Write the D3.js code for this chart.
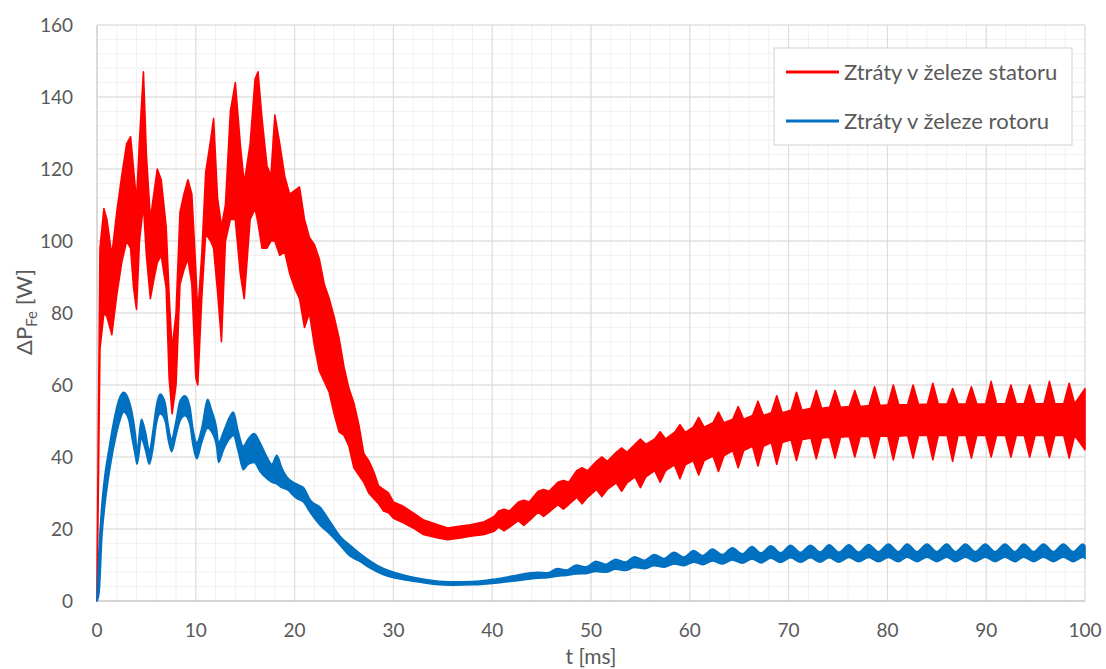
<!DOCTYPE html>
<html>
<head>
<meta charset="utf-8">
<script src="https://cdn.jsdelivr.net/npm/d3@7/dist/d3.min.js"></script>
<style>
  body { margin: 0; background: #fff; }
  #chart text { font-family: Lato, 'Open Sans', sans-serif; fill: #595959; }
</style>
</head>
<body>
<div id="chart"></div>
<script>
// envelope of the dense traces (upper / lower edge of each band)
const tRed = [0, 0.3, 0.7, 1, 1.5, 2, 2.5, 3, 3.4, 3.7, 4, 4.3, 4.7, 5, 5.4, 5.8, 6.1, 6.5, 7, 7.3,
  7.6, 8, 8.4, 8.8, 9.2, 9.6, 10, 10.2, 10.6, 11, 11.5, 11.8, 12.2, 12.6, 13, 13.5, 14, 14.5, 14.9, 15.5,
  16, 16.3, 16.7, 17.2, 17.6, 18, 18.5, 19, 19.5, 20, 20.5, 21, 21.5, 22, 22.5, 23, 23.5, 24, 24.5, 25,
  25.5, 26, 26.5, 27, 27.5, 28, 28.5, 29, 29.5, 30, 31, 32, 33, 34.5, 35.5, 36.8, 37.8, 39.2, 40.2,
  // ripple: shoulder, spike, shoulder
  40.65, 41.2, 41.75, 42.65, 43.2, 43.75, 44.65, 45.2, 45.75, 46.65, 47.2, 47.75,
  48.55, 49.1, 49.65, 50.55, 51.1, 51.65, 52.55, 53.1, 53.65, 54.45, 55, 55.55,
  56.45, 57, 57.55, 58.45, 59, 59.55, 60.35, 60.9, 61.45, 62.35, 62.9, 63.45,
  64.35, 64.9, 65.45, 66.35, 66.9, 67.45, 68.25, 68.8, 69.35, 70.25, 70.8, 71.35,
  72.25, 72.8, 73.35, 74.15, 74.7, 75.25, 76.15, 76.7, 77.25, 78.15, 78.7, 79.25,
  80.05, 80.6, 81.15, 82.05, 82.6, 83.15, 84.05, 84.6, 85.15, 86.05, 86.6, 87.15,
  87.95, 88.5, 89.05, 89.95, 90.5, 91.05, 91.95, 92.5, 93.05, 93.85, 94.4, 94.95,
  95.85, 96.4, 96.95, 97.85, 98.4, 98.95, 100]
const redHi = [5, 98, 109, 106, 96, 108, 118, 127, 129, 120, 111, 128, 147, 124, 106, 114, 120, 117, 104, 85,
  70, 80, 108, 113, 117, 113, 92, 80, 96, 119, 128, 134, 112, 104, 110, 136, 144, 127, 116, 127,
  145, 147, 134, 121, 118, 135, 127, 118, 113, 114, 115, 106, 101, 99, 95, 88, 84, 79, 73, 65,
  59, 55, 49, 41, 39, 36, 32, 31, 30, 27.5, 26.3, 24.5, 22.6, 21.2, 20.3, 20.8, 21.2, 22, 23.5,
  25, 25.5, 25, 27.5, 28, 27.5, 30.5, 31, 30.5, 33, 33.5, 33,
  36.2, 37, 36.2, 38.8, 40, 38.8, 41.3, 42.5, 41.3, 43.5, 45, 43.5,
  45, 47, 45, 46.8, 49, 46.8, 48.3, 51, 48.3, 49.5, 52.5, 49.5,
  50.5, 54, 50.5, 51.5, 55.5, 51.5, 52.3, 57, 52.3, 53, 58, 53,
  53.5, 58.5, 53.5, 53.8, 58.5, 53.8, 54, 58.5, 54, 54.3, 59.5, 54.3,
  54.5, 60, 54.5, 54.6, 60, 54.6, 54.7, 60.5, 54.7, 54.7, 59, 54.7,
  54.7, 59.5, 54.7, 54.8, 61, 54.8, 54.8, 60, 54.8, 54.8, 60, 54.8,
  54.8, 61, 54.8, 54.8, 60.5, 54.8, 59]
const redLo = [0, 70, 80, 79, 74, 85, 94, 100, 98, 87, 81, 100, 110, 96, 84, 90, 94, 96, 87, 62,
  52, 60, 88, 92, 95, 88, 62, 60, 84, 102, 100, 98, 86, 72, 100, 106, 106, 91, 84, 106,
  109, 105, 98, 98, 100, 100, 96, 97, 91, 87, 84, 76, 80, 71, 64, 61, 58, 52, 47, 46,
  43, 37, 35, 33, 30, 28.5, 27, 25, 24.5, 23, 21.7, 20.3, 18.5, 17.5, 17, 17.5, 18, 18.5, 19.4,
  20.5, 19.5, 20.5, 22.3, 21, 22.3, 24.7, 23.5, 24.7, 26.8, 25.5, 26.8,
  28.8, 27, 28.8, 31, 29, 31, 32.8, 30.5, 32.8, 34.5, 31.5, 34.5,
  36.2, 33, 36.2, 37.8, 34, 37.8, 39, 35, 39, 40.3, 36, 40.3,
  41.8, 37, 41.8, 43, 37.5, 43, 44, 38, 44, 44.8, 39, 44.8,
  45.3, 39.5, 45.3, 45.5, 39.7, 45.5, 45.7, 40, 45.7, 45.8, 39.7, 45.8,
  45.8, 39.2, 45.8, 46, 39.7, 46, 46, 39.2, 46, 46, 38.8, 46,
  46, 39.7, 46, 46, 40, 46, 46, 40, 46, 46, 40, 46,
  46, 40, 46, 46, 39.7, 46, 42]

const tBlue = [0, 0.2, 0.5, 0.85, 1.2, 1.5, 1.85, 2.3, 2.7, 3.2, 3.5, 3.9, 4.05, 4.5, 4.9, 5.3, 5.7, 6, 6.4, 6.9,
  7.2, 7.55, 8, 8.4, 8.9, 9.4, 9.7, 10.1, 10.6, 11.2, 11.6, 12.1, 12.3, 12.8, 13.4, 13.8, 14.3, 14.8, 15.3, 15.9,
  16.5, 17.2, 17.7, 18.2, 18.7, 19.2, 20.2, 20.9, 21.6, 22.6, 23.6, 24.6, 25.6, 26.6, 27.6, 29, 30.3, 32, 34, 36,
  38, 40, 42, 44.6, 45.6, 46.6, 47.5, 48.5, 49.5, 50.5, 51.5, 52.5, 53.5, 54.4, 55.4, 56.4, 57.4, 58.4, 59.4, 60.4,
  61.3, 62.3, 63.3, 64.3, 65.3, 66.3, 67.2, 68.2, 69.2, 70.2, 71.2, 72.2, 73.2, 74.1, 75.1, 76.1, 77.1, 78.1, 79.1, 80.1,
  81.1, 82, 83, 84, 85, 86, 86.9, 87.9, 88.9, 89.9, 90.9, 91.9, 92.9, 93.8, 94.8, 95.8, 96.8, 97.8, 98.8, 99.8, 100]
const blueHi = [1, 14, 27, 36, 42, 47, 52, 56.5, 58, 56, 53, 46, 42, 50.5, 47, 42, 48, 54, 57.5, 55,
  49, 45, 50, 55.5, 57, 54, 48, 44, 48, 56, 53, 48, 44, 47, 51, 52.5, 47, 43, 45, 46.5,
  44, 40, 38, 40.5, 37, 34.5, 32.5, 31.5, 28, 26, 22, 18, 15.5, 13.2, 11.2, 9, 7.8, 6.6, 5.7, 5.3,
  5.4, 6, 6.9, 8, 7.8, 9, 8.6, 10, 9.5, 11, 10.2, 11.6, 10.8, 12.3, 11.3, 12.9, 11.8, 13.5, 12.2, 14,
  12.6, 14.4, 12.9, 14.8, 13.1, 15.1, 13.3, 15.3, 13.4, 15.5, 13.5, 15.5, 13.6, 15.6, 13.6, 15.6, 13.6, 15.7, 13.7, 15.8,
  13.7, 15.8, 13.7, 15.8, 13.7, 15.8, 13.7, 15.8, 13.7, 15.8, 13.7, 15.8, 13.7, 15.8, 13.7, 15.8, 13.7, 15.8, 13.7, 15.8, 15.2]
const blueLo = [0, 2, 18, 28, 35, 40, 45, 50, 52.5, 50.5, 46, 40, 38, 45, 42, 38, 43, 49, 52, 50,
  45, 41.5, 46, 50, 51.5, 49, 43.5, 39.5, 44, 48, 47, 43, 38.5, 42, 45, 46, 41.5, 36.5, 38, 38.5,
  36, 34, 33, 32.5, 31.5, 31, 28.5, 27.5, 24.5, 21, 18.5, 15.5, 12.5, 11, 9.2, 7.3, 6.3, 5.5, 4.7, 4.4,
  4.5, 4.9, 5.5, 6.3, 6.5, 6.9, 7.1, 7.5, 7.6, 8.2, 8, 8.8, 8.5, 9.3, 9, 9.8, 9.4, 10.3, 9.8, 10.8,
  10.1, 11.1, 10.3, 11.4, 10.5, 11.7, 10.6, 11.9, 10.7, 12, 10.8, 12, 10.8, 12, 10.8, 12.1, 10.9, 12.1, 10.9, 12.1,
  10.9, 12.2, 10.9, 12.2, 10.9, 12.2, 10.9, 12.2, 10.9, 12.2, 10.9, 12.2, 10.9, 12.2, 10.9, 12.2, 10.9, 12.2, 10.9, 12.2, 11.8]

const seriesNames = ['Ztráty v železe statoru', 'Ztráty v železe rotoru']
const seriesColors = ['#ff0000', '#0070c0']
const xTicks = [0, 10, 20, 30, 40, 50, 60, 70, 80, 90, 100]
const yTicks = [0, 20, 40, 60, 80, 100, 120, 140, 160]

const width = 1106
const height = 669
const margin = { left: 97, right: 21, top: 25, bottom: 68 }

const svg = d3.select('#chart').append('svg')
  .attr('width', width)
  .attr('height', height)

const x = d3.scaleLinear().domain([0, 100]).range([margin.left, width - margin.right])
const y = d3.scaleLinear().domain([0, 160]).range([height - margin.bottom, margin.top])

// grid: minor first, then major
const grid = svg.append('g')
grid.selectAll('.vminor')
  .data(d3.range(0, 101, 2))
  .enter().append('line')
  .attr('x1', d => x(d)).attr('x2', d => x(d))
  .attr('y1', y(0)).attr('y2', y(160))
  .attr('stroke', '#f0f0f0').attr('stroke-width', 1)
grid.selectAll('.hminor')
  .data(d3.range(0, 161, 4))
  .enter().append('line')
  .attr('y1', d => y(d)).attr('y2', d => y(d))
  .attr('x1', x(0)).attr('x2', x(100))
  .attr('stroke', '#f0f0f0').attr('stroke-width', 1)
grid.selectAll('.vmajor')
  .data(xTicks)
  .enter().append('line')
  .attr('x1', d => x(d)).attr('x2', d => x(d))
  .attr('y1', y(0)).attr('y2', y(160))
  .attr('stroke', '#d9d9d9').attr('stroke-width', 1)
grid.selectAll('.hmajor')
  .data(yTicks)
  .enter().append('line')
  .attr('y1', d => y(d)).attr('y2', d => y(d))
  .attr('x1', x(0)).attr('x2', x(100))
  .attr('stroke', '#d9d9d9').attr('stroke-width', 1)

// axis lines
svg.append('line')
  .attr('x1', x(0)).attr('x2', x(100)).attr('y1', y(0)).attr('y2', y(0))
  .attr('stroke', '#bfbfbf').attr('stroke-width', 1.2)
svg.append('line')
  .attr('x1', x(0)).attr('x2', x(0)).attr('y1', y(0)).attr('y2', y(160))
  .attr('stroke', '#d0d0d0').attr('stroke-width', 1.2)

// data bands (red keeps its spikes, blue is a smooth thick wave)
const curves = [d3.curveLinear, d3.curveMonotoneX]

const series = [
  tRed.map((t, i) => ({ t: t, hi: redHi[i], lo: redLo[i] })),
  tBlue.map((t, i) => ({ t: t, hi: blueHi[i], lo: blueLo[i] }))
]

svg.selectAll('.band')
  .data(series)
  .enter().append('path')
  .attr('class', 'band')
  .attr('d', (d, i) => d3.area()
    .curve(curves[i])
    .x(p => x(p.t))
    .y0(p => y(p.lo))
    .y1(p => y(p.hi))(d))
  .attr('fill', (d, i) => seriesColors[i])
  .attr('stroke', (d, i) => seriesColors[i])
  .attr('stroke-width', 1.6)
  .attr('stroke-linejoin', 'round')

// tick labels
svg.selectAll('.ylab')
  .data(yTicks)
  .enter().append('text')
  .attr('x', 73)
  .attr('y', d => y(d))
  .attr('dy', '0.35em')
  .attr('text-anchor', 'end')
  .style('font-size', '19px')
  .text(d => d)
svg.selectAll('.xlab')
  .data(xTicks)
  .enter().append('text')
  .attr('x', d => x(d))
  .attr('y', 637)
  .attr('text-anchor', 'middle')
  .style('font-size', '19px')
  .text(d => d)

// axis titles
svg.append('text')
  .attr('x', x(50))
  .attr('y', 664)
  .attr('text-anchor', 'middle')
  .style('font-size', '21px')
  .text('t [ms]')

const yTitle = svg.append('text')
  .attr('transform', 'translate(32,' + 312 + ') rotate(-90)')
  .attr('text-anchor', 'middle')
  .style('font-size', '22px')
yTitle.append('tspan').text('ΔP')
yTitle.append('tspan').text('Fe').style('font-size', '15px').attr('dy', 5)
yTitle.append('tspan').text(' [W]').attr('dy', -5)

// legend
const legend = svg.append('g')
legend.append('rect')
  .attr('x', 774).attr('y', 48)
  .attr('width', 298).attr('height', 97)
  .attr('fill', '#fff')
  .attr('stroke', '#d9d9d9')
  .attr('stroke-width', 1.2)

const item = legend.selectAll('.item')
  .data(seriesNames)
  .enter().append('g')
  .attr('transform', (d, i) => 'translate(786,' + (72 + i * 49) + ')')
item.append('line')
  .attr('x1', 0).attr('x2', 53)
  .attr('stroke', (d, i) => seriesColors[i])
  .attr('stroke-width', 3)
item.append('text')
  .attr('x', 58)
  .attr('dy', '0.35em')
  .style('font-size', '22px')
  .text(d => d)
</script>
</body>
</html>
